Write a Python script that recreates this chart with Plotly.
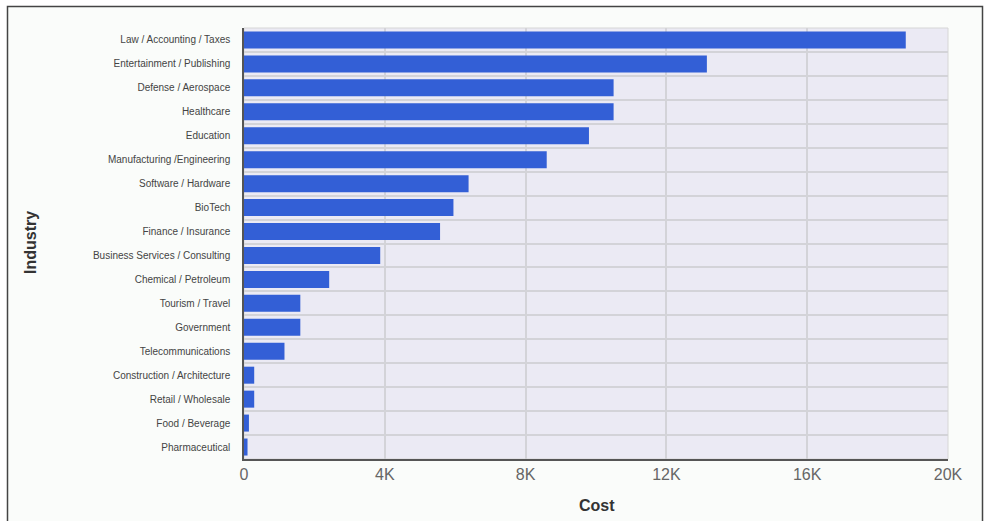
import plotly.graph_objects as go

industries = [
    "Law / Accounting / Taxes", "Entertainment / Publishing", "Defense / Aerospace",
    "Healthcare", "Education", "Manufacturing /Engineering", "Software / Hardware",
    "BioTech", "Finance / Insurance", "Business Services / Consulting",
    "Chemical / Petroleum", "Tourism / Travel", "Government", "Telecommunications",
    "Construction / Architecture", "Retail / Wholesale", "Food / Beverage", "Pharmaceutical",
]
cost = [18800, 13150, 10500, 10500, 9800, 8600, 6380, 5950, 5570, 3870,
        2420, 1600, 1600, 1150, 290, 290, 140, 100]

x_tick_vals = [0, 4000, 8000, 12000, 16000, 20000]
x_tick_text = ["0", "4K", "8K", "12K", "16K", "20K"]

W, H = 985, 521
L, R, T, B = 244, 37, 28, 62
pw, ph = W - L - R, H - T - B

def px_to_paper_x(px):
    return (px - L) / pw

def px_to_paper_y(py):
    return (H - B - py) / ph

fig = go.Figure(go.Bar(
    x=cost, y=industries, orientation="h",
    marker=dict(color="#335fd6", line=dict(width=0)),
    hovertemplate="%{y}: %{x}<extra></extra>",
))

fig.update_layout(
    width=W, height=H,
    margin=dict(l=L, r=R, t=T, b=B, autoexpand=False),
    paper_bgcolor="white",
    plot_bgcolor="#ebeaf4",
    bargap=0.29,
    showlegend=False,
    font=dict(family="Liberation Sans, Arial, sans-serif", color="#444"),
    shapes=[
        dict(type="rect", xref="paper", yref="paper", layer="below",
             x0=px_to_paper_x(7.5), x1=px_to_paper_x(982.5),
             y0=px_to_paper_y(540), y1=px_to_paper_y(6.5),
             line=dict(color="#444", width=1.5), fillcolor="#fafcfa"),
        dict(type="rect", xref="paper", yref="paper", layer="below",
             x0=0, x1=1, y0=0, y1=1,
             line=dict(color="#d6d6d6", width=1), fillcolor="#ebeaf4"),
    ],
    xaxis=dict(
        range=[0, 20000], tickvals=x_tick_vals, ticktext=x_tick_text,
        showgrid=True, gridcolor="#d3d3d8", gridwidth=1.5,
        zeroline=False, showline=True, linecolor="#555", linewidth=1.5,
        ticks="", ticklen=0,
        tickfont=dict(size=16, color="#666",
                      family="Liberation Sans Narrow, Liberation Sans, Arial"),
        fixedrange=True,
    ),
    yaxis=dict(
        type="category", autorange="reversed", tickson="boundaries",
        showgrid=True, gridcolor="#d3d3d8", gridwidth=1.5,
        showline=True, linecolor="#555", linewidth=1.5,
        ticks="", ticklabelstandoff=10,
        tickfont=dict(size=10, color="#444"),
        fixedrange=True,
    ),
    annotations=[
        dict(text="<b>Industry</b>", xref="paper", yref="paper",
             x=px_to_paper_x(30), y=px_to_paper_y(243), textangle=-90,
             showarrow=False, font=dict(size=16, color="#333"),
             xanchor="center", yanchor="middle"),
        dict(text="<b>Cost</b>", xref="paper", yref="paper",
             x=px_to_paper_x(597), y=px_to_paper_y(505),
             showarrow=False, font=dict(size=16, color="#333",
                                        family="Liberation Sans Narrow, Liberation Sans, Arial"),
             xanchor="center", yanchor="middle"),
    ],
)

fig.write_html("out.html", config=dict(displayModeBar=False),
               post_script="document.body.style.margin='0';")
